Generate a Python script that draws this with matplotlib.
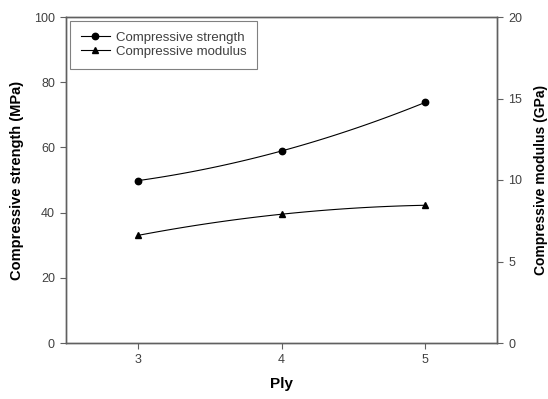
import numpy as np
import matplotlib
matplotlib.use("Agg")
import matplotlib.pyplot as plt

plt.rcParams['font.family'] = ['Liberation Sans', 'DejaVu Sans']

ply = [3, 4, 5]
strength = [49.8, 58.9, 73.8]   # MPa
modulus = [6.6, 7.9, 8.45]      # GPa

fig = plt.figure(figsize=(5.48, 3.99), dpi=100)
ax = fig.add_axes([66/548, 1 - 343/399, (497-66)/548, (343-17)/399])
ax2 = ax.twinx()

axis_col = '#606060'
text_col = '#404040'


def smooth(x, y):
    c = np.polyfit(x, y, len(x) - 1)
    xs = np.linspace(x[0], x[-1], 100)
    return xs, np.polyval(c, xs)


xs, ys = smooth(ply, strength)
ax.plot(xs, ys, color='black', lw=0.8)
ax.plot(ply, strength, 'o', color='black', ms=4.6)
h1, = ax.plot([], [], '-o', color='black', lw=0.8, ms=4.6, label='Compressive strength')

xs, ys = smooth(ply, modulus)
ax2.plot(xs, ys, color='black', lw=0.8)
ax2.plot(ply, modulus, '^', color='black', ms=5)
h2, = ax.plot([], [], '-^', color='black', lw=0.8, ms=5, label='Compressive modulus')

ax.set_xlim(2.5, 5.5)
ax.set_ylim(0, 100)
ax2.set_ylim(0, 20)
ax.set_xticks(ply)
ax.set_yticks(range(0, 101, 20))
ax2.set_yticks(range(0, 21, 5))

for a in (ax, ax2):
    for s in a.spines.values():
        s.set_color(axis_col)
        s.set_linewidth(1.0)
    a.tick_params(direction='out', length=4, width=0.8, color=axis_col,
                  labelcolor=text_col, labelsize=9, pad=4)

ax.set_xlabel('Ply', fontsize=11, fontweight='bold', labelpad=8)
ax.set_ylabel('Compressive strength (MPa)', fontsize=10.5, fontweight='bold')
ax2.set_ylabel('Compressive modulus (GPa)', fontsize=10, fontweight='bold')
ax.yaxis.set_label_coords(-0.098, 0.5)
ax2.yaxis.set_label_coords(1.087, 0.5)

leg = ax.legend(handles=[h1, h2], loc='upper left', fontsize=9.5, frameon=True,
                fancybox=False, edgecolor=axis_col, handlelength=2.2,
                borderaxespad=0.3, borderpad=0.8, labelspacing=0.15, handletextpad=0.5)
leg.get_frame().set_linewidth(0.8)
for t in leg.get_texts():
    t.set_color(text_col)

fig.savefig('out.png', dpi=100)
